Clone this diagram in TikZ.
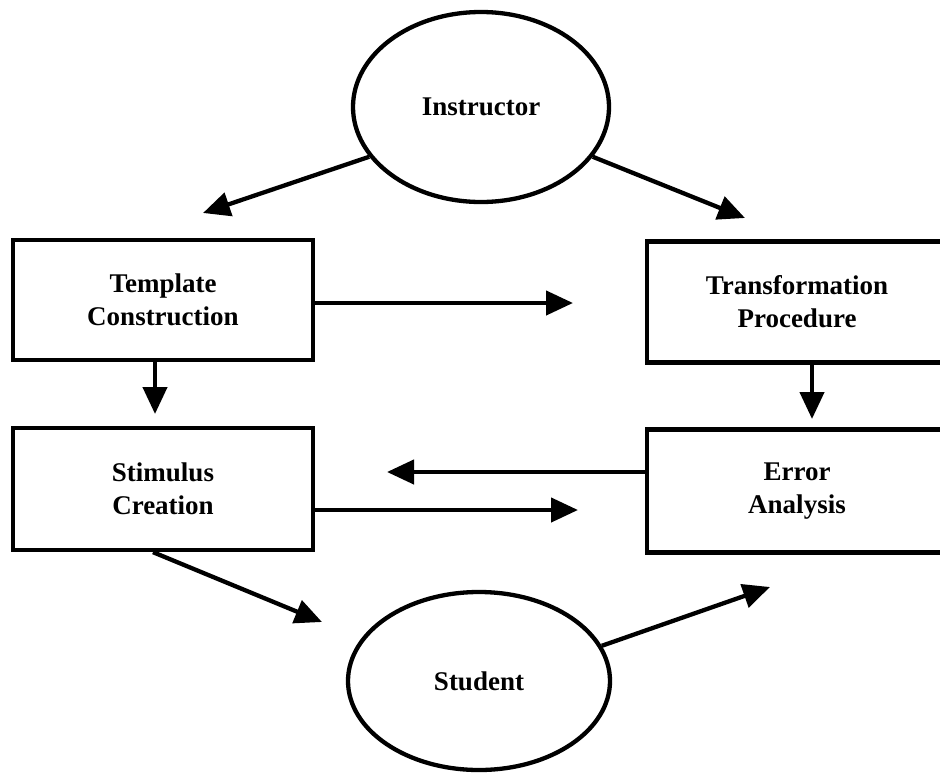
\documentclass[tikz,border=0pt]{standalone}
\usepackage{fontspec}
\setmainfont{Liberation Serif}
\usetikzlibrary{shapes.geometric,arrows.meta}
\begin{document}
\begin{tikzpicture}[x=1pt,y=-1pt,
  every node/.style={font=\fontsize{27}{33}\selectfont\bfseries, align=center},
  blob/.style={draw, ellipse, line width=4.3pt, inner sep=0pt},
  stepbox/.style={draw, rectangle, line width=4.3pt, inner sep=0pt},
  arr/.style={line width=4.3pt, -{Triangle[length=27pt,width=24pt]}}]
\useasboundingbox (0,0) rectangle (940,774);
\node[blob, minimum width=256, minimum height=190] (instr) at (481,107) {Instructor};
\node[blob, minimum width=262, minimum height=178] (student) at (479,681) {Student};
\node[stepbox, minimum width=300, minimum height=120] (tc) at (163,300) {Template\\Construction};
\node[stepbox, minimum width=300, minimum height=121] (tp) at (797,302) {Transformation\\Procedure};
\node[stepbox, minimum width=300, minimum height=122] (sc) at (163,489) {Stimulus\\Creation};
\node[stepbox, minimum width=300, minimum height=123] (ea) at (797,491) {Error\\Analysis};
\coordinate (t1) at (203,213);
\coordinate (t2) at (745,218);
\coordinate (t3) at (573,303);
\coordinate (t4) at (155,414);
\coordinate (t5) at (812,419);
\coordinate (t6) at (387,472);
\coordinate (t7) at (578,510);
\coordinate (t8) at (322,622);
\coordinate (t9) at (770,587);
\draw[arr] (instr.204) -- (t1);
\draw[arr] (instr.336) -- (t2);
\draw[arr] (tc.east |- t3) -- (t3);
\draw[arr] (tc.south -| t4) -- (t4);
\draw[arr] (tp.south -| t5) -- (t5);
\draw[arr] (ea.west |- t6) -- (t6);
\draw[arr] (sc.east |- t7) -- (t7);
\draw[arr] ([xshift=-10pt]sc.south) -- (t8);
\draw[arr] (student.16) -- (t9);
\end{tikzpicture}
\end{document}
